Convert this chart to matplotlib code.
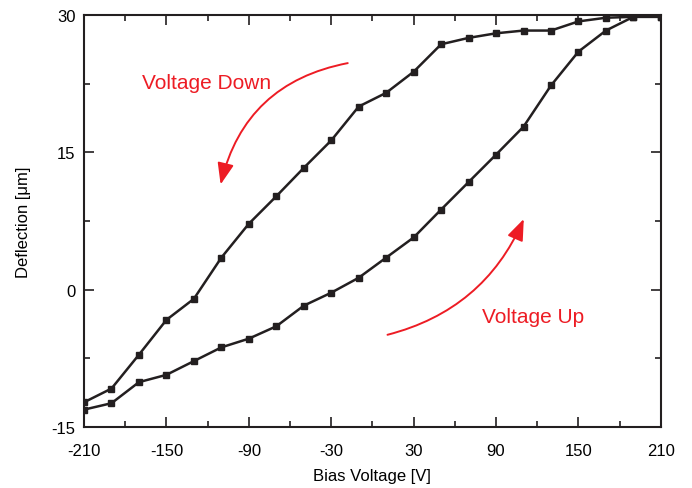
import matplotlib
matplotlib.use("Agg")
import matplotlib.pyplot as plt
from matplotlib.ticker import MultipleLocator
from matplotlib.patches import FancyArrowPatch

plt.rcParams['font.family'] = ['Liberation Sans', 'DejaVu Sans']
plt.rcParams['axes.unicode_minus'] = False

voltage = [-210, -190, -170, -150, -130, -110, -90, -70, -50, -30, -10,
           10, 30, 50, 70, 90, 110, 130, 150, 170, 190, 210]
defl_down = [-12.3, -10.8, -7.1, -3.3, -1.0, 3.5, 7.2, 10.2, 13.3, 16.3, 20.0,
             21.5, 23.8, 26.8, 27.5, 28.0, 28.3, 28.3, 29.3, 29.7, 29.8, 29.8]
defl_up = [-13.1, -12.4, -10.1, -9.3, -7.8, -6.3, -5.35, -4.0, -1.75, -0.33, 1.3,
           3.5, 5.7, 8.75, 11.75, 14.75, 17.8, 22.3, 26.0, 28.3, 29.8, 29.8]

xticks = [-210, -150, -90, -30, 30, 90, 150, 210]
yticks = [-15, 0, 15, 30]

fig = plt.figure(figsize=(6.92, 4.89), dpi=100)
ax = fig.add_axes([0.1214, 0.1247, 0.8336, 0.8426])

line_color = '#231F20'
red = '#ED1C24'
ax.plot(voltage, defl_down, color=line_color, lw=1.8, marker='s', ms=5, mfc=line_color, mec=line_color)
ax.plot(voltage, defl_up, color=line_color, lw=1.8, marker='s', ms=5, mfc=line_color, mec=line_color)

ax.set_xlim(-210, 210)
ax.set_ylim(-15, 30)
ax.set_xticks(xticks)
ax.set_yticks(yticks)
ax.xaxis.set_minor_locator(MultipleLocator(30))
ax.yaxis.set_minor_locator(MultipleLocator(7.5))
ax.tick_params(which='both', direction='in', top=True, right=True, color=line_color, width=1.2)
ax.tick_params(which='major', length=7, labelsize=12, pad=6)
ax.tick_params(axis='x', which='major', pad=11.5)
ax.tick_params(which='minor', length=4)
for s in ax.spines.values():
    s.set_linewidth(1.5)
    s.set_color(line_color)

ax.set_xlabel('Bias Voltage [V]', fontsize=12, labelpad=7)
ax.set_ylabel('Deflection [\u03bcm]', fontsize=12, labelpad=15)

a1 = FancyArrowPatch((-16, 24.8), (-111, 11.2), connectionstyle='arc3,rad=0.33',
                     arrowstyle='-|>,head_length=13,head_width=5', color=red, lw=1.4, mutation_scale=1)
ax.add_patch(a1)
a2 = FancyArrowPatch((9, -5.0), (111, 8.0), connectionstyle='arc3,rad=0.25',
                     arrowstyle='-|>,head_length=13,head_width=5', color=red, lw=1.4, mutation_scale=1)
ax.add_patch(a2)

ax.text(-120.5, 22.6, 'Voltage Down', color=red, fontsize=15, ha='center', va='center')
ax.text(117, -2.9, 'Voltage Up', color=red, fontsize=15, ha='center', va='center')

fig.savefig('out.png', dpi=100)
